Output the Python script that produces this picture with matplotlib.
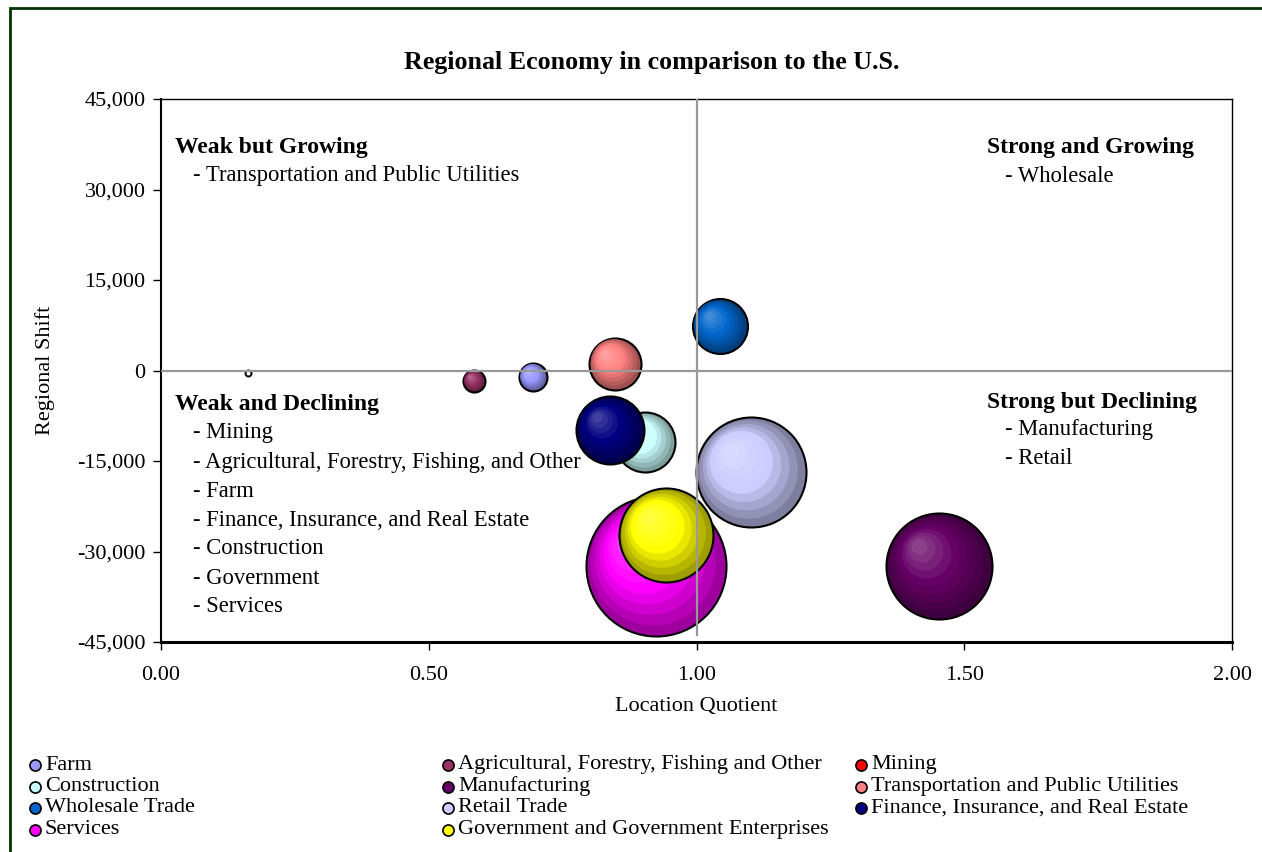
import matplotlib
matplotlib.use("Agg")
import matplotlib.pyplot as plt
import matplotlib.transforms as mtransforms
from matplotlib.lines import Line2D
from matplotlib.patches import Rectangle
from matplotlib.ticker import FuncFormatter, MultipleLocator
import numpy as np

plt.rcParams["font.family"] = ["Liberation Serif", "DejaVu Serif"]

# ---- data ----
industries = ["Farm", "Agricultural, Forestry, Fishing and Other", "Mining",
              "Construction", "Manufacturing", "Transportation and Public Utilities",
              "Wholesale Trade", "Retail Trade", "Finance, Insurance, and Real Estate",
              "Services", "Government and Government Enterprises"]
location_quotient = [0.695, 0.585, 0.162, 0.904, 1.452, 0.848, 1.043, 1.102, 0.838, 0.925, 0.943]
regional_shift = [-1080, -1740, -450, -11860, -32340, 1160, 7380, -16830, -9870, -32420, -27280]
# negative size -> drawn hollow, as Excel does with "show negative bubbles"
bubble_size = [196, 121, -9, 900, 2810, 676, 756, 3025, 1156, 4900, 2210]
colors = ["#9999ff", "#993366", "#ff0000", "#ccffff", "#660066", "#ff8080",
          "#0066cc", "#ccccff", "#000080", "#ff00ff", "#ffff00"]

quadrants = {
    "Weak but Growing": ["Transportation and Public Utilities"],
    "Strong and Growing": ["Wholesale"],
    "Weak and Declining": ["Mining", "Agricultural, Forestry, Fishing, and Other", "Farm",
                           "Finance, Insurance, and Real Estate", "Construction",
                           "Government", "Services"],
    "Strong but Declining": ["Manufacturing", "Retail"],
}

W, H, DPI = 1262, 852, 100
fig = plt.figure(figsize=(W / DPI, H / DPI), dpi=DPI)
ax = fig.add_axes([161 / W, 1 - 642 / H, (1232 - 161) / W, (642 - 99) / H])

ax.set_xlim(0, 2)
ax.set_ylim(-45000, 45000)


def shade(c, f):
    c = np.array(matplotlib.colors.to_rgb(c))
    return tuple(c * f)


def tint(c, f):
    c = np.array(matplotlib.colors.to_rgb(c))
    return tuple(c + (1 - c) * f)


# bubbles with a simple spherical gradient
px2pt = 72 / DPI
n_layers = 9
for i in range(len(industries)):
    r = np.sqrt(abs(bubble_size[i]))
    x, y = location_quotient[i], regional_shift[i]
    if bubble_size[i] < 0:
        ax.scatter([x], [y], s=(2 * r * px2pt) ** 2, color="white", edgecolors="black",
                   linewidths=1.4, zorder=3)
        continue
    for k in range(n_layers):
        t = k / (n_layers - 1)
        rk = r * (1 - 0.85 * t)
        off = (r - rk) * 0.42
        tr = mtransforms.offset_copy(ax.transData, fig=fig, x=-off * px2pt,
                                     y=off * px2pt, units="points")
        if t < 0.5:
            col = shade(colors[i], 0.62 + 0.76 * t)
        else:
            col = tint(colors[i], (t - 0.5) * 0.5)
        ax.scatter([x], [y], s=(2 * rk * px2pt) ** 2,
                   color=col, edgecolors="black" if k == 0 else "none",
                   linewidths=1.5 if k == 0 else 0, transform=tr, zorder=3 + i * 0.01)

ax.axvline(1.0, ymin=0.012, color="#999999", lw=1.6, zorder=5)
ax.axhline(0, color="#999999", lw=1.6, zorder=5)

ax.xaxis.set_major_locator(MultipleLocator(0.5))
ax.yaxis.set_major_locator(MultipleLocator(15000))
ax.xaxis.set_major_formatter(FuncFormatter(lambda v, p: f"{v:.2f}"))
ax.yaxis.set_major_formatter(FuncFormatter(lambda v, p: f"{int(round(v)):,}"))
ax.tick_params(axis="both", labelsize=16, length=6, width=1, direction="out", pad=5)
ax.tick_params(axis="x", pad=11)
for s in ["top", "right"]:
    ax.spines[s].set_linewidth(1)
ax.spines["left"].set_linewidth(1.5)
ax.spines["bottom"].set_linewidth(2.2)

ax.set_xlabel("Location Quotient", fontsize=16, labelpad=9)
ax.set_ylabel("Regional Shift", fontsize=16, labelpad=16)

fig.text(652 / W, 1 - 62 / H, "Regional Economy in comparison to the U.S.",
         ha="center", va="center", fontsize=18.7, fontweight="bold")

# quadrant notes
head_pos = {"Weak but Growing": (175, 148), "Strong and Growing": (987, 148),
            "Weak and Declining": (175, 405), "Strong but Declining": (987, 402)}
for head, items in quadrants.items():
    hx, hy = head_pos[head]
    fig.text(hx / W, 1 - hy / H, head, ha="left", va="center", fontsize=17,
             fontweight="bold")
    for j, it in enumerate(items):
        fig.text((hx + 18) / W, 1 - (hy + 28 + 29 * j) / H, "- " + it, ha="left",
                 va="center", fontsize=16.3)

# legend, 3 columns row by row
col_x = [35, 448, 861]
row_y = [765, 786.5, 808, 829.5]
for i, name in enumerate(industries):
    x = col_x[i % 3]
    y = row_y[i // 3]
    fig.add_artist(Line2D([x / W], [1 - y / H], marker="o", markersize=8,
                          markerfacecolor=colors[i], markeredgecolor="black",
                          markeredgewidth=1.2, linestyle="none",
                          transform=fig.transFigure))
    fig.text((x + 10) / W, 1 - y / H, name, ha="left", va="center", fontsize=16)

# outer chart border
fig.add_artist(Rectangle((10 / W, -0.1), 1.2, 1 - 8 / H + 0.1, transform=fig.transFigure,
                         fill=False, edgecolor="#003300", lw=2))

fig.savefig("out.png", dpi=DPI)
